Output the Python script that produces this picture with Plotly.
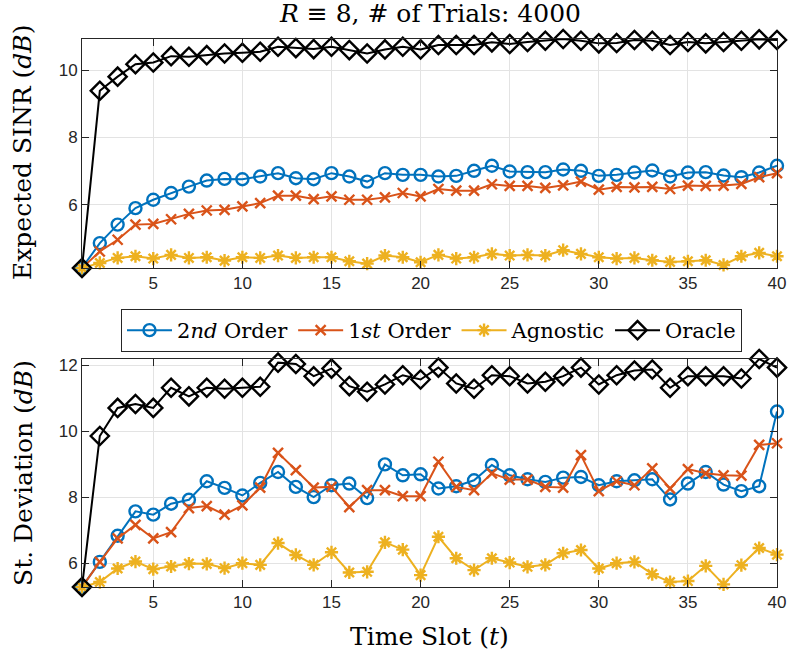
import plotly.graph_objects as go

t = list(range(1, 41))

# Expected SINR (dB)
sinr_2nd = [4.12, 4.86, 5.41, 5.90, 6.15, 6.35, 6.54, 6.72, 6.77, 6.76,
            6.84, 6.94, 6.79, 6.76, 6.94, 6.84, 6.69, 6.94, 6.89, 6.89,
            6.84, 6.86, 7.01, 7.16, 6.99, 6.97, 6.97, 7.05, 7.01, 6.86,
            6.89, 6.96, 7.02, 6.84, 6.96, 6.97, 6.87, 6.82, 6.96, 7.16]
sinr_1st = [4.12, 4.61, 4.96, 5.41, 5.43, 5.57, 5.73, 5.83, 5.85, 5.95,
            6.05, 6.27, 6.27, 6.17, 6.25, 6.15, 6.15, 6.22, 6.35, 6.25,
            6.47, 6.42, 6.42, 6.61, 6.56, 6.56, 6.50, 6.58, 6.69, 6.45,
            6.53, 6.52, 6.53, 6.47, 6.57, 6.56, 6.57, 6.62, 6.82, 6.94]
sinr_agn = [4.12, 4.27, 4.42, 4.47, 4.40, 4.51, 4.42, 4.44, 4.34, 4.44,
            4.42, 4.49, 4.42, 4.44, 4.44, 4.32, 4.25, 4.49, 4.44, 4.29,
            4.51, 4.40, 4.44, 4.54, 4.49, 4.51, 4.49, 4.65, 4.54, 4.44,
            4.40, 4.42, 4.35, 4.30, 4.32, 4.35, 4.21, 4.47, 4.57, 4.47]
sinr_orc = [4.12, 9.39, 9.81, 10.18, 10.23, 10.42, 10.40, 10.45, 10.50, 10.52,
            10.55, 10.70, 10.66, 10.63, 10.70, 10.60, 10.50, 10.62, 10.70, 10.62,
            10.75, 10.75, 10.75, 10.83, 10.78, 10.84, 10.88, 10.93, 10.88, 10.80,
            10.81, 10.90, 10.88, 10.75, 10.84, 10.80, 10.84, 10.88, 10.92, 10.90]

# Standard deviation (dB)
std_2nd = [5.29, 6.05, 6.84, 7.58, 7.48, 7.81, 7.93, 8.49, 8.29, 8.06,
           8.44, 8.77, 8.32, 8.01, 8.37, 8.42, 7.98, 9.00, 8.67, 8.70,
           8.27, 8.34, 8.52, 8.98, 8.67, 8.55, 8.47, 8.60, 8.62, 8.37,
           8.49, 8.52, 8.55, 7.94, 8.42, 8.77, 8.39, 8.19, 8.34, 10.60]
std_1st = [5.29, 6.05, 6.76, 7.17, 6.76, 6.95, 7.68, 7.74, 7.48, 7.76,
           8.30, 9.35, 8.83, 8.30, 8.32, 7.71, 8.22, 8.22, 8.04, 8.04,
           9.08, 8.32, 8.22, 8.73, 8.54, 8.54, 8.32, 8.30, 9.28, 8.19,
           8.49, 8.37, 8.88, 8.27, 8.86, 8.73, 8.67, 8.66, 9.59, 9.64]
std_agn = [5.29, 5.44, 5.85, 6.06, 5.83, 5.91, 6.00, 5.99, 5.86, 6.01,
           5.96, 6.62, 6.26, 5.96, 6.34, 5.73, 5.75, 6.64, 6.42, 5.65,
           6.81, 6.16, 5.80, 6.16, 6.03, 5.90, 5.96, 6.31, 6.41, 5.85,
           6.01, 6.05, 5.68, 5.44, 5.47, 5.93, 5.37, 5.95, 6.47, 6.27]
std_orc = [5.29, 9.86, 10.71, 10.83, 10.71, 11.32, 11.06, 11.32, 11.29, 11.32,
           11.35, 12.08, 12.04, 11.67, 11.90, 11.37, 11.20, 11.42, 11.70, 11.57,
           11.93, 11.45, 11.29, 11.70, 11.67, 11.45, 11.50, 11.67, 11.93, 11.42,
           11.70, 11.84, 11.87, 11.32, 11.67, 11.67, 11.67, 11.60, 12.19, 11.93]

names = ["2<i>nd</i> Order", "1<i>st</i> Order", "Agnostic", "Oracle"]
x_ticks = [5, 10, 15, 20, 25, 30, 35, 40]
top_yticks = [6, 8, 10]
bot_yticks = [6, 8, 10, 12]

colors = ["#0072BD", "#D95319", "#EDB120", "#000000"]
symbols = ["circle-open", "x-thin-open", "asterisk-open", "diamond-open"]
msizes = [12, 10, 11, 14]

W, H = 788, 659
x0, x1 = 82, 777
top_y0, top_y1 = 39, 268
bot_y0, bot_y1 = 359, 587

fig = go.Figure()
top_series = [sinr_2nd, sinr_1st, sinr_agn, sinr_orc]
bot_series = [std_2nd, std_1st, std_agn, std_orc]
for i in range(4):
    fig.add_trace(go.Scatter(
        x=t, y=top_series[i], name=names[i], mode="lines+markers",
        line=dict(color=colors[i], width=2),
        marker=dict(symbol=symbols[i], size=msizes[i], color=colors[i],
                    line=dict(color=colors[i], width=2.4)),
        cliponaxis=False, xaxis="x", yaxis="y", showlegend=True))
for i in range(4):
    fig.add_trace(go.Scatter(
        x=t, y=bot_series[i], name=names[i], mode="lines+markers",
        line=dict(color=colors[i], width=2),
        marker=dict(symbol=symbols[i], size=msizes[i], color=colors[i],
                    line=dict(color=colors[i], width=2.4)),
        cliponaxis=False, xaxis="x2", yaxis="y2", showlegend=False))

tickfont = dict(family="Liberation Sans, Arial", size=17, color="#262626")
axcommon = dict(showline=True, linecolor="#262626", linewidth=1, mirror="ticks",
                ticks="inside", ticklen=7, tickcolor="#262626",
                showgrid=True, gridcolor="#e3e3e3", gridwidth=1,
                zeroline=False, tickfont=tickfont, automargin=False)

xd = [x0 / W, x1 / W]
top_all = sinr_2nd + sinr_1st + sinr_agn + sinr_orc
bot_all = std_2nd + std_1st + std_agn + std_orc

fig.update_layout(
    width=W, height=H,
    margin=dict(l=0, r=0, t=0, b=0),
    paper_bgcolor="white", plot_bgcolor="white",
    xaxis=dict(domain=xd, range=[1, 40], tickvals=x_ticks, anchor="y", **axcommon),
    yaxis=dict(domain=[1 - top_y1 / H, 1 - top_y0 / H], range=[min(top_all), max(top_all)],
               tickvals=top_yticks, anchor="x", **axcommon),
    xaxis2=dict(domain=xd, range=[1, 40], tickvals=x_ticks, anchor="y2", **axcommon),
    yaxis2=dict(domain=[1 - bot_y1 / H, 1 - bot_y0 / H], range=[min(bot_all), max(bot_all)],
                tickvals=bot_yticks, anchor="x2", **axcommon),
    legend=dict(orientation="h", x=(111 + 752) / 2 / W, xanchor="center",
                y=1 - 309 / H, yanchor="top",
                font=dict(family="DejaVu Serif", size=21, color="#000000"),
                bordercolor="#262626", borderwidth=1, bgcolor="white",
                itemwidth=45, tracegroupgap=0),
    showlegend=True,
)

serif = "DejaVu Serif"
cx = (x0 + x1) / 2 / W
fig.add_annotation(text="<i>R</i> ≡ 8, # of Trials: 4000", x=cx, y=1 - 14 / H,
                   xref="paper", yref="paper", showarrow=False, xanchor="center", yanchor="middle",
                   font=dict(family=serif, size=25, color="#000000"))
fig.add_annotation(text="Expected SINR (<i>dB</i>)", x=23 / W, y=1 - 153 / H, textangle=-90,
                   xref="paper", yref="paper", showarrow=False, xanchor="center", yanchor="middle",
                   font=dict(family=serif, size=25, color="#000000"))
fig.add_annotation(text="St. Deviation (<i>dB</i>)", x=23 / W, y=1 - 473 / H, textangle=-90,
                   xref="paper", yref="paper", showarrow=False, xanchor="center", yanchor="middle",
                   font=dict(family=serif, size=25, color="#000000"))
fig.add_annotation(text="Time Slot (<i>t</i>)", x=cx, y=1 - 636 / H,
                   xref="paper", yref="paper", showarrow=False, xanchor="center", yanchor="middle",
                   font=dict(family=serif, size=25, color="#000000"))

fig.write_html("out.html", config={"displayModeBar": False},
               post_script="document.body.style.margin='0px';")
